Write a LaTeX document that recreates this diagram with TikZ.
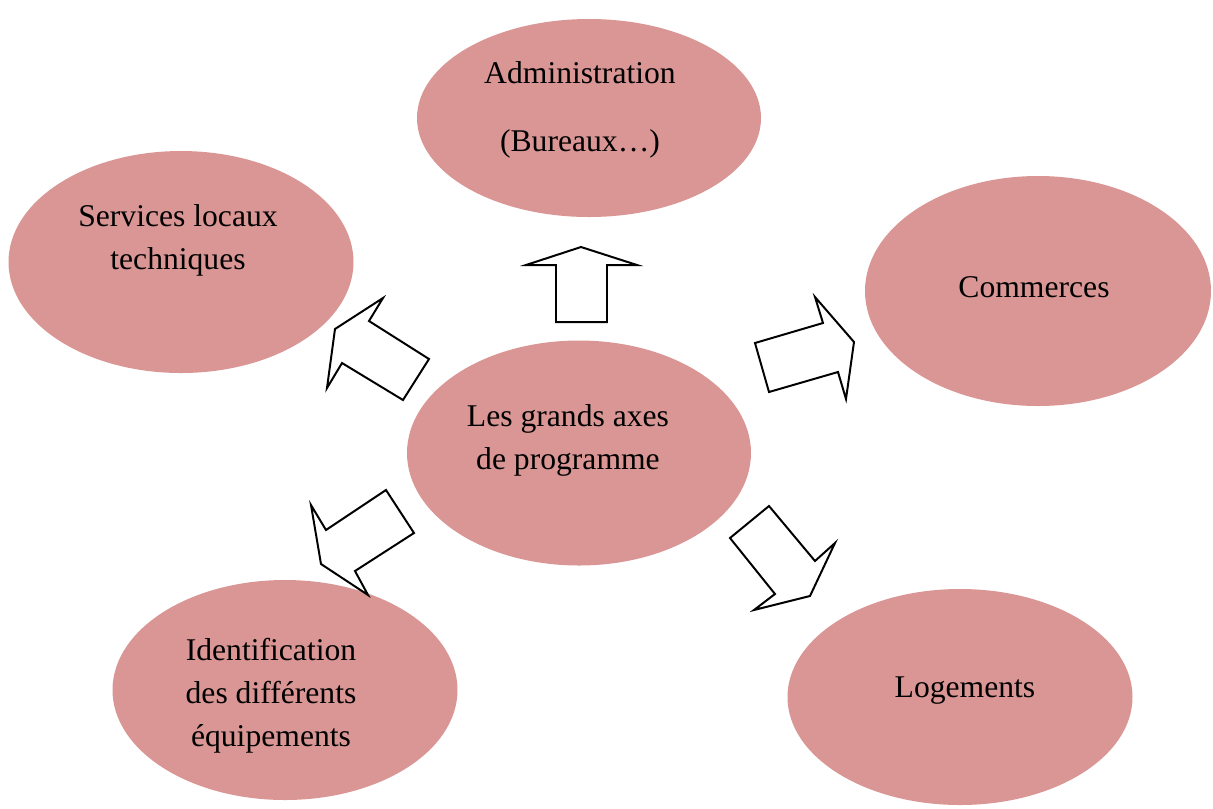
\documentclass[tikz,border=0pt]{standalone}
\usepackage{fontspec}
\setmainfont{Liberation Serif}
\usetikzlibrary{shapes.geometric}
\definecolor{axe}{RGB}{217,150,148}
\begin{document}
\begin{tikzpicture}[
    x=0.3794pt, y=-0.3794pt,
    bubble/.style 2 args={ellipse, fill=axe, inner sep=0pt,
      minimum width=#1*0.3794pt, minimum height=#2*0.3794pt},
    txt/.style={align=center, inner sep=0pt, font=\fontsize{12}{16.3}\selectfont},
    blk/.style={draw, fill=white, line width=0.75pt, line join=miter}
    ]
  \useasboundingbox (0,0) rectangle (1213,808);
  % ellipses
  \node [bubble={344}{225}] (centre) at (579,453) {};
  \node [bubble={344}{198}] (admin) at (589,118) {};
  \node [bubble={345}{222}] (serv) at (181,262) {};
  \node [bubble={346}{230}] (comm) at (1038,291) {};
  \node [bubble={345}{220}] (equip) at (285,690) {};
  \node [bubble={345}{216}] (loge) at (960,697) {};
  % texts
  \node [txt] (centre-t) at (568,440) {Les grands axes\\de programme};
  \node [txt] (admin-t) at (580,110) {Administration\\[9.7pt](Bureaux…)};
  \node [txt] (serv-t) at (178,240) {Services locaux\\techniques};
  \node [txt] (comm-t) at (1034,287) {Commerces};
  \node [txt] (equip-t) at (271,696) {Identification\\des différents\\équipements};
  \node [txt] (loge-t) at (965,691) {Logements};
  % block arrows
  \draw [blk] (556,322) -- (556,265) -- (526,265) -- (581,247) -- (637,265)
    -- (607,265) -- (607,322) -- cycle;
  \draw [blk] (755,343) -- (823,323) -- (815,297) -- (854,342) -- (846,399)
    -- (838,372) -- (769,392) -- cycle;
  \draw [blk] (429,359) -- (369,321) -- (383,298) -- (335,329) -- (327,388)
    -- (342,363) -- (403,400) -- cycle;
  \draw [blk] (386,490) -- (326,530) -- (311,505) -- (321,564) -- (368,595)
    -- (355,571) -- (414,533) -- cycle;
  \draw [blk] (769,506) -- (815,561) -- (835,543) -- (810,596) -- (754,610)
    -- (775,594) -- (730,538) -- cycle;
\end{tikzpicture}
\end{document}
